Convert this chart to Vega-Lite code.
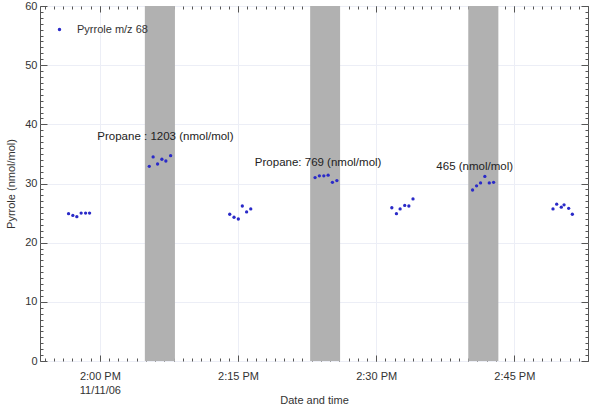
{
  "$schema": "https://vega.github.io/schema/vega-lite/v6.json",
  "width": 548,
  "height": 355,
  "autosize": "none",
  "padding": {"left": 40, "top": 6, "right": 3, "bottom": 47},
  "background": "white",
  "config": {
    "font": "Liberation Sans",
    "view": {"stroke": "#555555"},
    "axis": {
      "labelFont": "Liberation Sans",
      "titleFont": "Liberation Sans",
      "labelFontSize": 11,
      "titleFontSize": 11,
      "titleFontWeight": "normal",
      "labelColor": "#333333",
      "titleColor": "#333333",
      "domain": false,
      "tickColor": "#555555",
      "gridColor": "#eceef6",
      "gridWidth": 1
    }
  },
  "datasets": {
    "pyrrole": [
      {"time": "2006-11-11T13:56:36", "value": 24.9, "series": "Pyrrole m/z 68"},
      {"time": "2006-11-11T13:57:04", "value": 24.6, "series": "Pyrrole m/z 68"},
      {"time": "2006-11-11T13:57:30", "value": 24.4, "series": "Pyrrole m/z 68"},
      {"time": "2006-11-11T13:57:58", "value": 25.0, "series": "Pyrrole m/z 68"},
      {"time": "2006-11-11T13:58:27", "value": 25.0, "series": "Pyrrole m/z 68"},
      {"time": "2006-11-11T13:58:53", "value": 25.0, "series": "Pyrrole m/z 68"},
      {"time": "2006-11-11T14:05:22", "value": 32.9, "series": "Pyrrole m/z 68"},
      {"time": "2006-11-11T14:05:47", "value": 34.5, "series": "Pyrrole m/z 68"},
      {"time": "2006-11-11T14:06:16", "value": 33.3, "series": "Pyrrole m/z 68"},
      {"time": "2006-11-11T14:06:44", "value": 34.1, "series": "Pyrrole m/z 68"},
      {"time": "2006-11-11T14:07:10", "value": 33.8, "series": "Pyrrole m/z 68"},
      {"time": "2006-11-11T14:07:41", "value": 34.7, "series": "Pyrrole m/z 68"},
      {"time": "2006-11-11T14:14:06", "value": 24.8, "series": "Pyrrole m/z 68"},
      {"time": "2006-11-11T14:14:34", "value": 24.3, "series": "Pyrrole m/z 68"},
      {"time": "2006-11-11T14:15:02", "value": 24.0, "series": "Pyrrole m/z 68"},
      {"time": "2006-11-11T14:15:28", "value": 26.2, "series": "Pyrrole m/z 68"},
      {"time": "2006-11-11T14:15:56", "value": 25.2, "series": "Pyrrole m/z 68"},
      {"time": "2006-11-11T14:16:23", "value": 25.7, "series": "Pyrrole m/z 68"},
      {"time": "2006-11-11T14:23:22", "value": 31.0, "series": "Pyrrole m/z 68"},
      {"time": "2006-11-11T14:23:50", "value": 31.3, "series": "Pyrrole m/z 68"},
      {"time": "2006-11-11T14:24:19", "value": 31.3, "series": "Pyrrole m/z 68"},
      {"time": "2006-11-11T14:24:47", "value": 31.4, "series": "Pyrrole m/z 68"},
      {"time": "2006-11-11T14:25:15", "value": 30.2, "series": "Pyrrole m/z 68"},
      {"time": "2006-11-11T14:25:44", "value": 30.5, "series": "Pyrrole m/z 68"},
      {"time": "2006-11-11T14:31:42", "value": 25.9, "series": "Pyrrole m/z 68"},
      {"time": "2006-11-11T14:32:12", "value": 24.9, "series": "Pyrrole m/z 68"},
      {"time": "2006-11-11T14:32:36", "value": 25.7, "series": "Pyrrole m/z 68"},
      {"time": "2006-11-11T14:33:06", "value": 26.3, "series": "Pyrrole m/z 68"},
      {"time": "2006-11-11T14:33:33", "value": 26.2, "series": "Pyrrole m/z 68"},
      {"time": "2006-11-11T14:34:00", "value": 27.4, "series": "Pyrrole m/z 68"},
      {"time": "2006-11-11T14:40:28", "value": 28.9, "series": "Pyrrole m/z 68"},
      {"time": "2006-11-11T14:40:54", "value": 29.6, "series": "Pyrrole m/z 68"},
      {"time": "2006-11-11T14:41:20", "value": 30.1, "series": "Pyrrole m/z 68"},
      {"time": "2006-11-11T14:41:48", "value": 31.2, "series": "Pyrrole m/z 68"},
      {"time": "2006-11-11T14:42:17", "value": 30.1, "series": "Pyrrole m/z 68"},
      {"time": "2006-11-11T14:42:45", "value": 30.2, "series": "Pyrrole m/z 68"},
      {"time": "2006-11-11T14:49:12", "value": 25.7, "series": "Pyrrole m/z 68"},
      {"time": "2006-11-11T14:49:36", "value": 26.5, "series": "Pyrrole m/z 68"},
      {"time": "2006-11-11T14:50:06", "value": 26.0, "series": "Pyrrole m/z 68"},
      {"time": "2006-11-11T14:50:24", "value": 26.4, "series": "Pyrrole m/z 68"},
      {"time": "2006-11-11T14:50:54", "value": 25.8, "series": "Pyrrole m/z 68"},
      {"time": "2006-11-11T14:51:18", "value": 24.8, "series": "Pyrrole m/z 68"}
    ],
    "propane": [
      {"start": "2006-11-11T14:04:53", "end": "2006-11-11T14:08:09"},
      {"start": "2006-11-11T14:22:50", "end": "2006-11-11T14:26:05"},
      {"start": "2006-11-11T14:40:00", "end": "2006-11-11T14:43:16"}
    ],
    "notes": [
      {"time": "2006-11-11T14:07:07", "value": 37.8, "label": "Propane : 1203 (nmol/mol)"},
      {"time": "2006-11-11T14:23:42", "value": 33.5, "label": "Propane: 769 (nmol/mol)"},
      {"time": "2006-11-11T14:40:42", "value": 32.8, "label": "465 (nmol/mol)"}
    ]
  },
  "resolve": {"axis": {"x": "independent", "y": "independent"}},
  "layer": [
    {
      "data": {"name": "propane"},
      "mark": {"type": "rect", "color": "#b1b1b1"},
      "encoding": {
        "x": {
          "field": "start", "type": "temporal",
          "scale": {"domain": [{"year": 2006, "month": 11, "date": 11, "hours": 13, "minutes": 53, "seconds": 30}, {"year": 2006, "month": 11, "date": 11, "hours": 14, "minutes": 53, "seconds": 0}], "nice": false},
          "axis": {"orient": "bottom", "tickCount": 60, "labels": false, "grid": false, "tickSize": -3, "title": null}
        },
        "x2": {"field": "end"},
        "y": {
          "datum": 0, "type": "quantitative",
          "scale": {"domain": [0, 60], "nice": false},
          "axis": {"orient": "left", "tickCount": 60, "labels": false, "grid": false, "tickSize": -3, "title": null}
        },
        "y2": {"datum": 60}
      }
    },
    {
      "data": {"name": "pyrrole"},
      "mark": {"type": "point", "filled": true, "size": 11, "opacity": 1},
      "encoding": {
        "x": {
          "field": "time", "type": "temporal",
          "scale": {"domain": [{"year": 2006, "month": 11, "date": 11, "hours": 13, "minutes": 53, "seconds": 30}, {"year": 2006, "month": 11, "date": 11, "hours": 14, "minutes": 53, "seconds": 0}], "nice": false},
          "axis": {
            "orient": "bottom",
            "values": [
              {"year": 2006, "month": 11, "date": 11, "hours": 14, "minutes": 0},
              {"year": 2006, "month": 11, "date": 11, "hours": 14, "minutes": 15},
              {"year": 2006, "month": 11, "date": 11, "hours": 14, "minutes": 30},
              {"year": 2006, "month": 11, "date": 11, "hours": 14, "minutes": 45}
            ],
            "grid": true,
            "tickSize": -6,
            "labelPadding": 15,
            "format": "%-I:%M %p",
            "title": null
          }
        },
        "y": {
          "field": "value", "type": "quantitative",
          "scale": {"domain": [0, 60], "nice": false},
          "axis": {
            "orient": "left",
            "values": [0, 10, 20, 30, 40, 50, 60],
            "grid": true,
            "tickSize": -7,
            "labelPadding": 10,
            "title": "Pyrrole (nmol/mol)",
            "titlePadding": 8
          }
        },
        "color": {
          "field": "series", "type": "nominal",
          "scale": {"range": ["#2a2ac8"]},
          "legend": {
            "title": null,
            "orient": "none",
            "legendX": 14,
            "legendY": 18,
            "padding": 0,
            "symbolType": "circle",
            "symbolSize": 12,
            "labelFontSize": 11,
            "labelColor": "#333333",
            "labelOffset": 12
          }
        }
      }
    },
    {
      "data": {"name": "notes"},
      "mark": {"type": "text", "fontSize": 11.5, "color": "#222222", "align": "center", "baseline": "middle"},
      "encoding": {
        "x": {
          "field": "time", "type": "temporal",
          "scale": {"domain": [{"year": 2006, "month": 11, "date": 11, "hours": 13, "minutes": 53, "seconds": 30}, {"year": 2006, "month": 11, "date": 11, "hours": 14, "minutes": 53, "seconds": 0}], "nice": false},
          "axis": {"orient": "top", "tickCount": 60, "labels": false, "grid": false, "tickSize": -3, "title": null}
        },
        "y": {
          "field": "value", "type": "quantitative",
          "scale": {"domain": [0, 60], "nice": false},
          "axis": {"orient": "right", "tickCount": 60, "labels": false, "grid": false, "tickSize": -3, "title": null}
        },
        "text": {"field": "label"}
      }
    },
    {
      "data": {"name": "pyrrole"},
      "mark": {"type": "point", "opacity": 0},
      "encoding": {
        "x": {
          "field": "time", "type": "temporal",
          "scale": {"domain": [{"year": 2006, "month": 11, "date": 11, "hours": 13, "minutes": 53, "seconds": 30}, {"year": 2006, "month": 11, "date": 11, "hours": 14, "minutes": 53, "seconds": 0}], "nice": false},
          "axis": {
            "orient": "top",
            "values": [
              {"year": 2006, "month": 11, "date": 11, "hours": 14, "minutes": 0},
              {"year": 2006, "month": 11, "date": 11, "hours": 14, "minutes": 15},
              {"year": 2006, "month": 11, "date": 11, "hours": 14, "minutes": 30},
              {"year": 2006, "month": 11, "date": 11, "hours": 14, "minutes": 45}
            ],
            "labels": false, "grid": false, "tickSize": -6, "title": null
          }
        },
        "y": {
          "field": "value", "type": "quantitative",
          "scale": {"domain": [0, 60], "nice": false},
          "axis": {"orient": "right", "values": [0, 10, 20, 30, 40, 50, 60], "labels": false, "grid": false, "tickSize": -7, "title": null}
        }
      }
    },
    {
      "data": {"name": "pyrrole"},
      "mark": {"type": "point", "opacity": 0},
      "encoding": {
        "x": {
          "field": "time", "type": "temporal",
          "scale": {"domain": [{"year": 2006, "month": 11, "date": 11, "hours": 13, "minutes": 53, "seconds": 30}, {"year": 2006, "month": 11, "date": 11, "hours": 14, "minutes": 53, "seconds": 0}], "nice": false},
          "axis": {
            "orient": "bottom",
            "values": [{"year": 2006, "month": 11, "date": 11, "hours": 14, "minutes": 0}],
            "format": "%m/%d/%y",
            "ticks": false,
            "grid": false,
            "labelPadding": 23,
            "title": "Date and time",
            "titlePadding": -1
          }
        },
        "y": {
          "field": "value", "type": "quantitative",
          "scale": {"domain": [0, 60], "nice": false},
          "axis": {"orient": "left", "values": [0], "labels": false, "ticks": false, "grid": false, "title": null}
        }
      }
    }
  ]
}
